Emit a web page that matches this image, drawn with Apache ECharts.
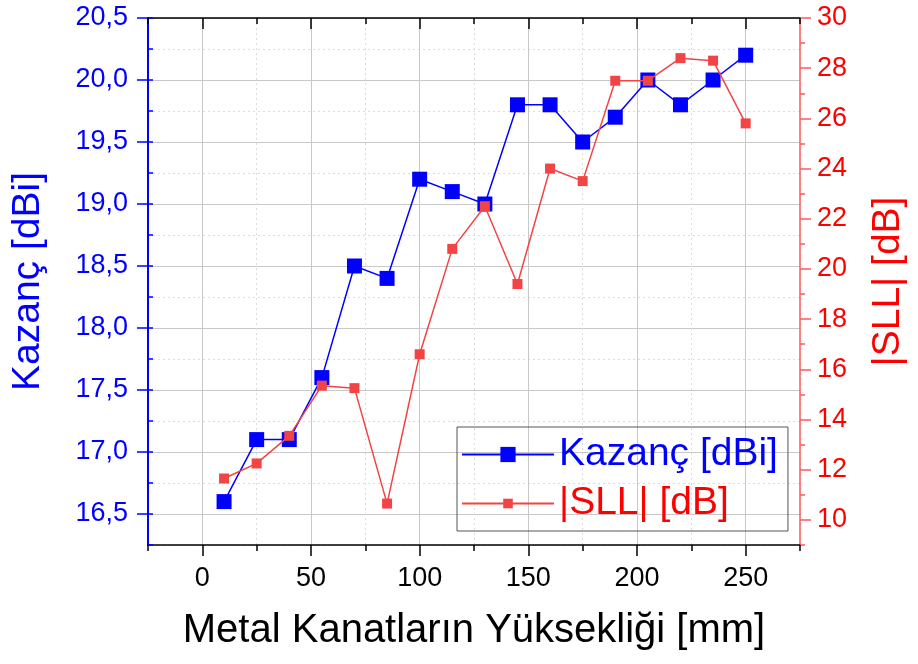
<!DOCTYPE html>
<html>
<head>
<meta charset="utf-8">
<script src="https://cdn.jsdelivr.net/npm/echarts@6/dist/echarts.min.js"></script>
<style>
html,body{margin:0;padding:0;background:#fff;}
#chart{width:918px;height:664px;}
</style>
</head>
<body>
<div id="chart"></div>
<script>
const xValues = [10, 25, 40, 55, 70, 85, 100, 115, 130, 145, 160, 175, 190, 205, 220, 235, 250];
const kazanc = [16.6, 17.1, 17.1, 17.6, 18.5, 18.4, 19.2, 19.1, 19.0, 19.8, 19.8, 19.5, 19.7, 20.0, 19.8, 20.0, 20.2];
const sll = [11.65, 12.25, 13.35, 15.35, 15.25, 10.65, 16.6, 20.8, 22.5, 19.4, 24.0, 23.5, 27.5, 27.5, 28.4, 28.3, 25.8];
const xMajorTicks = [0, 50, 100, 150, 200, 250];
const leftMajorTicks = [16.5, 17.0, 17.5, 18.0, 18.5, 19.0, 19.5, 20.0, 20.5];
const rightMajorTicks = [10, 12, 14, 16, 18, 20, 22, 24, 26, 28, 30];
const seriesNames = ['Kazanç [dBi]', '|SLL| [dB]'];
const xTitle = 'Metal Kanatların Yüksekliği [mm]';

const FONT = '"Liberation Sans", Arial, sans-serif';
const BLUE = '#0000FF';
const RED = '#FF0000';
const SLLC = '#F24444';

const chart = echarts.init(document.getElementById('chart'), null, {renderer: 'canvas'});

const xRange = {min: -25, max: 275};
const lRange = {min: 16.25, max: 20.5};
const rRange = {min: 9, max: 30};

const option = {
  animation: false,
  backgroundColor: '#fff',
  textStyle: {fontFamily: FONT},
  grid: {left: 148, top: 18, width: 652, height: 527, containLabel: false},
  legend: [
    {
      data: [seriesNames[0]], left: 457, top: 427, orient: 'vertical',
      itemWidth: 92, itemHeight: 19, selectedMode: false,
      borderColor: '#555', borderWidth: 1, padding: [8, 10, 57, 4],
      textStyle: {fontSize: 39, color: BLUE, fontFamily: FONT}
    },
    {
      data: [seriesNames[1]], left: 457, top: 479, orient: 'vertical',
      itemWidth: 92, itemHeight: 12, selectedMode: false,
      padding: [5, 5, 5, 4],
      textStyle: {fontSize: 39, color: RED, fontFamily: FONT}
    }
  ],
  xAxis: [
    Object.assign({type: 'value', position: 'bottom', interval: 25,
      axisLine: {show: true, onZero: false, lineStyle: {color: '#000', width: 1.5}},
      axisTick: {show: true, length: 6, lineStyle: {color: '#000', width: 1.5}},
      axisLabel: {show: false},
      splitLine: {show: true, lineStyle: {color: '#dcdcdc', width: 1, type: [2, 3]}}
    }, xRange),
    Object.assign({type: 'value', position: 'bottom', interval: 25,
      axisLine: {show: false, onZero: false},
      axisTick: {show: true, customValues: xMajorTicks, length: 11, lineStyle: {color: '#000', width: 1.5}},
      axisLabel: {show: true, customValues: xMajorTicks, fontSize: 27, color: '#000', margin: 20, fontFamily: FONT},
      splitLine: {show: true, lineStyle: {color: '#c8c8c8', width: 1}},
      name: xTitle, nameLocation: 'middle', nameGap: 66,
      nameTextStyle: {fontSize: 40, color: '#000', fontFamily: FONT}
    }, xRange),
    Object.assign({type: 'value', position: 'top', interval: 25,
      axisLine: {show: true, onZero: false, lineStyle: {color: '#000', width: 1.5}},
      axisTick: {show: true, inside: true, length: 6, lineStyle: {color: '#000', width: 1.5}},
      axisLabel: {show: false}, splitLine: {show: false}
    }, xRange),
    Object.assign({type: 'value', position: 'top', interval: 25,
      axisLine: {show: false, onZero: false},
      axisTick: {show: true, inside: true, customValues: xMajorTicks, length: 11, lineStyle: {color: '#000', width: 1.5}},
      axisLabel: {show: false}, splitLine: {show: false}
    }, xRange)
  ],
  yAxis: [
    Object.assign({type: 'value', position: 'left', interval: 0.25,
      axisLine: {show: true, onZero: false, lineStyle: {color: BLUE, width: 2}},
      axisTick: {show: true, inside: true, length: 5, lineStyle: {color: BLUE, width: 1.5}},
      axisLabel: {show: false},
      splitLine: {show: true, lineStyle: {color: '#dcdcdc', width: 1, type: [2, 3]}}
    }, lRange),
    Object.assign({type: 'value', position: 'left', interval: 0.25,
      axisLine: {show: false, onZero: false},
      axisTick: {show: true, customValues: leftMajorTicks, length: 11, lineStyle: {color: BLUE, width: 1.5}},
      axisLabel: {show: true, customValues: leftMajorTicks, fontSize: 27, color: BLUE, margin: 20, fontFamily: FONT,
        formatter: v => Number(v).toFixed(1).replace('.', ',')},
      splitLine: {show: true, lineStyle: {color: '#c8c8c8', width: 1}},
      name: seriesNames[0], nameLocation: 'middle', nameGap: 100,
      nameTextStyle: {fontSize: 39, color: BLUE, fontFamily: FONT}
    }, lRange),
    Object.assign({type: 'value', position: 'right', interval: 1,
      axisLine: {show: true, onZero: false, lineStyle: {color: '#FF5A5A', width: 1.5}},
      axisTick: {show: true, length: 5, lineStyle: {color: '#FF5A5A', width: 1.5}},
      axisLabel: {show: false}, splitLine: {show: false}
    }, rRange),
    Object.assign({type: 'value', position: 'right', interval: 1,
      axisLine: {show: false, onZero: false},
      axisTick: {show: true, customValues: rightMajorTicks, length: 11, lineStyle: {color: '#FF5A5A', width: 1.5}},
      axisLabel: {show: true, customValues: rightMajorTicks, fontSize: 27, color: RED, margin: 17, fontFamily: FONT},
      splitLine: {show: false},
      name: seriesNames[1], nameLocation: 'middle', nameGap: 69,
      nameTextStyle: {fontSize: 39, color: RED, fontFamily: FONT}
    }, rRange)
  ],
  series: [
    {
      name: seriesNames[0], type: 'line', xAxisIndex: 0, yAxisIndex: 0,
      data: xValues.map((x, i) => [x, kazanc[i]]),
      symbol: 'rect', symbolSize: 15,
      lineStyle: {color: BLUE, width: 1.5},
      itemStyle: {color: BLUE},
      z: 3
    },
    {
      name: seriesNames[1], type: 'line', xAxisIndex: 0, yAxisIndex: 2,
      data: xValues.map((x, i) => [x, sll[i]]),
      symbol: 'rect', symbolSize: 10,
      lineStyle: {color: SLLC, width: 1.5},
      itemStyle: {color: SLLC},
      z: 4
    }
  ]
};
chart.setOption(option);
</script>
</body>
</html>
